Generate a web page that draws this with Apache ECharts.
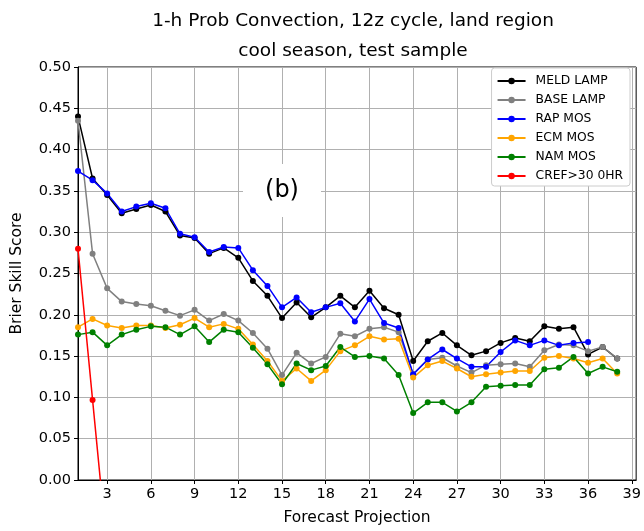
<!DOCTYPE html>
<html>
<head>
<meta charset="utf-8">
<script src="https://cdn.jsdelivr.net/npm/echarts@6/dist/echarts.min.js"></script>
<style>html,body{margin:0;padding:0;background:#fff}#c{width:644px;height:531px}</style>
</head>
<body>
<div id="c"></div>
<script>
var projections = [1,2,3,4,5,6,7,8,9,10,11,12,13,14,15,16,17,18,19,20,21,22,23,24,25,26,27,28,29,30,31,32,33,34,35,36,37,38];
var xTicks = [3,6,9,12,15,18,21,24,27,30,33,36,39];
var meldLamp = [0.440,0.365,0.345,0.323,0.328,0.333,0.325,0.296,0.293,0.274,0.281,0.269,0.241,0.223,0.196,0.215,0.197,0.209,0.223,0.209,0.229,0.208,0.200,0.144,0.168,0.178,0.163,0.151,0.156,0.166,0.172,0.168,0.186,0.183,0.185,0.152,0.161,0.147];
var baseLamp = [0.435,0.274,0.232,0.216,0.213,0.211,0.205,0.199,0.206,0.193,0.201,0.193,0.178,0.159,0.127,0.154,0.141,0.149,0.177,0.174,0.183,0.185,0.179,0.128,0.146,0.148,0.138,0.130,0.139,0.140,0.141,0.137,0.157,0.164,0.163,0.156,0.161,0.147];
var rapMos = [0.374,0.363,0.347,0.325,0.331,0.335,0.329,0.298,0.294,0.276,0.282,0.281,0.254,0.235,0.209,0.221,0.203,0.209,0.214,0.192,0.219,0.190,0.184,0.128,0.146,0.158,0.147,0.137,0.137,0.155,0.169,0.163,0.169,0.163,0.166,0.167];
var ecmMos = [0.185,0.195,0.187,0.184,0.187,0.187,0.184,0.188,0.196,0.185,0.189,0.183,0.164,0.144,0.120,0.135,0.120,0.133,0.156,0.163,0.174,0.170,0.171,0.124,0.139,0.144,0.135,0.125,0.128,0.130,0.132,0.132,0.148,0.150,0.147,0.142,0.147,0.129];
var namMos = [0.176,0.179,0.163,0.176,0.182,0.186,0.185,0.176,0.186,0.167,0.182,0.179,0.160,0.140,0.116,0.141,0.133,0.138,0.161,0.149,0.150,0.147,0.127,0.081,0.094,0.094,0.083,0.094,0.113,0.114,0.115,0.115,0.134,0.136,0.149,0.129,0.137,0.131];
var cref30 = [0.280,0.097,-0.085];

var FONT = 'DejaVu Sans';
function pairs(vals){ return vals.map(function(v,i){ return [projections[i], v]; }); }
function mk(name, vals, color){
  return {
    name: name, type: 'line', data: pairs(vals), clip: true,
    symbol: 'circle', symbolSize: 6, showSymbol: true,
    lineStyle: {color: color, width: 1.5},
    itemStyle: {color: color},
    emphasis: {disabled: true}, animation: false
  };
}
var chart = echarts.init(document.getElementById('c'), null, {renderer: 'canvas'});
chart.setOption({
  animation: false,
  backgroundColor: '#fff',
  title: {
    text: '1-h Prob Convection, 12z cycle, land region\ncool season, test sample',
    left: 348, top: 1, textAlign: 'center',
    textStyle: {fontFamily: FONT, fontSize: 18.5, fontWeight: 'normal', color: '#000', lineHeight: 30}
  },
  grid: {left: 78, right: 6, top: 67, bottom: 50, show: true, borderColor: '#000', borderWidth: 1, backgroundColor: 'transparent'},
  legend: {
    orient: 'vertical', right: 14, top: 68,
    backgroundColor: '#fff', borderColor: '#cccccc', borderWidth: 1, borderRadius: 3,
    padding: [7, 7, 4, 5], itemWidth: 28, itemHeight: 8, itemGap: 7,
    textStyle: {fontFamily: FONT, fontSize: 12.3, color: '#000', padding: [0, 0, 0, 5]},
    data: ['MELD LAMP','BASE LAMP','RAP MOS','ECM MOS','NAM MOS','CREF>30 0HR']
  },
  xAxis: {
    type: 'value', min: 1, max: 39.3,
    name: 'Forecast Projection', nameLocation: 'middle', nameGap: 30,
    nameTextStyle: {fontFamily: FONT, fontSize: 15.5, color: '#000'},
    axisLine: {show: true, onZero: false, lineStyle: {color: '#000'}},
    axisTick: {show: true, length: 4, inside: false, lineStyle: {color: '#000'}, customValues: xTicks},
    axisLabel: {fontFamily: FONT, fontSize: 14.5, color: '#000', margin: 7, customValues: xTicks},
    splitLine: {show: true, lineStyle: {color: '#b0b0b0', width: 1}}
  },
  yAxis: {
    type: 'value', min: 0, max: 0.5, interval: 0.05,
    name: 'Brier Skill Score', nameLocation: 'middle', nameGap: 53,
    nameTextStyle: {fontFamily: FONT, fontSize: 15.5, color: '#000'},
    axisLine: {show: true, lineStyle: {color: '#000'}},
    axisTick: {show: true, length: 4, lineStyle: {color: '#000'}},
    axisLabel: {fontFamily: FONT, fontSize: 14.5, color: '#000', margin: 7, formatter: function(v){ return v.toFixed(2); }},
    splitLine: {show: true, lineStyle: {color: '#b0b0b0', width: 1}}
  },
  graphic: [{
    type: 'group', left: 243, top: 164, z: 100,
    children: [
      {type: 'rect', z: 100, shape: {x: 0, y: 0, width: 78, height: 53}, style: {fill: '#fff'}},
      {type: 'text', z: 101, x: 39, y: 27, style: {text: '(b)', fontFamily: FONT, fontSize: 24, fill: '#000', align: 'center', verticalAlign: 'middle'}}
    ]
  }],
  series: [
    mk('MELD LAMP', meldLamp, '#000000'),
    mk('BASE LAMP', baseLamp, '#808080'),
    mk('RAP MOS', rapMos, '#0000ff'),
    mk('ECM MOS', ecmMos, '#ffa500'),
    mk('NAM MOS', namMos, '#008000'),
    mk('CREF>30 0HR', cref30, '#ff0000')
  ]
});
</script>
</body>
</html>
